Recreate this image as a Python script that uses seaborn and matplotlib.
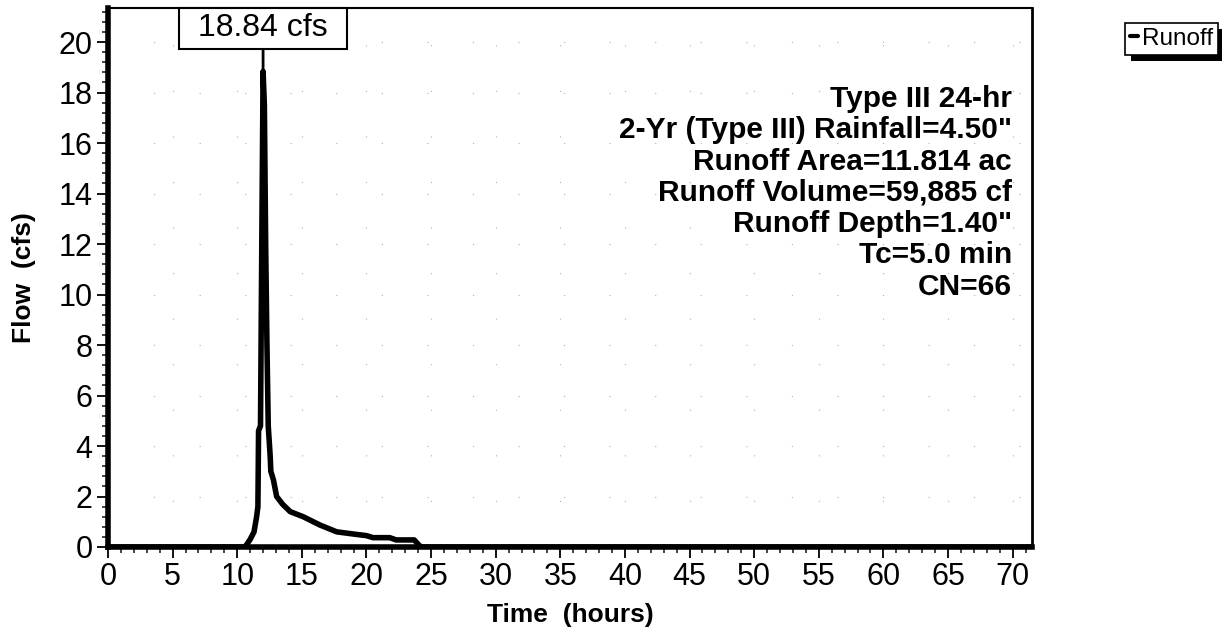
import matplotlib
matplotlib.use("Agg")
import matplotlib.pyplot as plt
from matplotlib.patches import Rectangle
from matplotlib.ticker import MultipleLocator
import seaborn as sns
import pandas as pd

# ---- data ----
time_hr = [0.0, 10.6, 11.0, 11.3, 11.5, 11.6, 11.65, 11.8, 11.9, 12.0, 12.1, 12.2,
           12.3, 12.4, 12.55, 12.6, 12.8, 13.05, 13.5, 14.1, 15.1, 16.4, 17.7,
           19.2, 20.0, 20.5, 21.8, 22.3, 23.7, 24.1, 24.3, 72.0]
flow_cfs = [0.0, 0.0, 0.3, 0.6, 1.2, 1.6, 4.6, 4.8, 12.0, 18.84, 17.5, 12.0,
            8.0, 4.8, 3.6, 3.0, 2.66, 2.0, 1.7, 1.4, 1.2, 0.87, 0.6,
            0.5, 0.45, 0.37, 0.37, 0.28, 0.28, 0.05, 0.0, 0.0]
peak_label = "18.84 cfs"
peak_time = 12.0
peak_flow = 18.84
info_lines = ["Type III 24-hr", "2-Yr (Type III) Rainfall=4.50\"",
              "Runoff Area=11.814 ac", "Runoff Volume=59,885 cf",
              "Runoff Depth=1.40\"", "Tc=5.0 min", "CN=66"]
x_ticks = list(range(0, 71, 5))
y_ticks = list(range(0, 21, 2))

df = pd.DataFrame({"Time (hours)": time_hr, "Flow (cfs)": flow_cfs, "series": "Runoff"})

sns.set_theme(style="white")
plt.rcParams["font.family"] = ["Liberation Sans", "DejaVu Sans"]

W, H = 1222, 634
fig = plt.figure(figsize=(W / 100, H / 100), dpi=100)
ax = fig.add_axes([108 / W, (H - 547) / H, (1032 - 108) / W, (547 - 8) / H])

sns.lineplot(data=df, x="Time (hours)", y="Flow (cfs)", ax=ax, color="black",
             linewidth=4, legend=False, sort=False)

ax.set_xlim(0, 71.5)
ax.set_ylim(0, 21.35)
ax.set_xticks(x_ticks)
ax.set_yticks(y_ticks)
ax.xaxis.set_minor_locator(MultipleLocator(1))
ax.yaxis.set_minor_locator(MultipleLocator(0.4))
ax.tick_params(axis="both", which="major", direction="out", length=8, width=1.3,
               labelsize=22, colors="black", pad=3, bottom=True, left=True)
ax.tick_params(axis="both", which="minor", direction="out", length=4, width=1.2,
               bottom=True, left=True)

# faint sparse dotted grid
ax.grid(True, which="major", color="#b0b0b0", linestyle=(0, (1, 40)), linewidth=0.8)

for side, lw in [("left", 4.0), ("bottom", 4.0), ("right", 2.0), ("top", 1.5)]:
    ax.spines[side].set_visible(True)
    ax.spines[side].set_color("black")
    ax.spines[side].set_linewidth(lw)

ax.set_xlabel("Time  (hours)", fontsize=19, fontweight="bold", labelpad=8, color="black")
ax.set_ylabel("Flow  (cfs)", fontsize=19, fontweight="bold", labelpad=16, color="black")

# peak label: text + box sized from the text extent, leader line to the peak
box_top, box_bot = 1.0, (547 - 49) / 539
peak_txt = ax.text(peak_time, (box_top + box_bot) / 2, peak_label,
                   transform=ax.get_xaxis_transform(), ha="center", va="center",
                   fontsize=23, color="black", zorder=6)
ax.annotate("", xy=(peak_time, peak_flow), xycoords="data",
            xytext=(peak_time, box_bot), textcoords=("data", "axes fraction"),
            arrowprops=dict(arrowstyle="-", color="black", lw=2, shrinkA=0, shrinkB=0))

# info text block
y0 = 99
for i, line in enumerate(info_lines):
    ax.text(1012 / W, 1 - (y0 + i * 31.3) / H, line, transform=fig.transFigure,
            ha="right", va="center", fontsize=21.5, fontweight="bold", color="black")

# legend with offset shadow
handle = plt.Line2D([], [], color="black", lw=3)
leg = fig.legend([handle], ["Runoff"], loc="upper left",
                 bbox_to_anchor=(1125 / W, 1 - 23 / H), fontsize=17.5,
                 handlelength=0.35, handletextpad=0.15, borderpad=0.2,
                 frameon=True, fancybox=False, borderaxespad=0,
                 facecolor="white", framealpha=1)
leg.get_frame().set_edgecolor("black")
leg.get_frame().set_linewidth(1.2)
leg.set_zorder(5)
for t in leg.get_texts():
    t.set_color("black")

fig.canvas.draw()

# box around the peak label
tb = peak_txt.get_window_extent()
pad_x = 19
ax_bb = ax.get_window_extent()
y_top_px = ax_bb.y1
y_bot_px = ax_bb.y0 + box_bot * ax_bb.height
pbox = Rectangle(((tb.x0 - pad_x) / W, y_bot_px / H), (tb.width + 2 * pad_x) / W,
                 (y_top_px - y_bot_px) / H, transform=fig.transFigure,
                 facecolor="white", edgecolor="black", linewidth=1.5, zorder=5)
fig.patches.append(pbox)
peak_txt.remove()
fig.text((tb.x0 + tb.x1) / 2 / W, (y_top_px + y_bot_px) / 2 / H, peak_label,
         ha="center", va="center", fontsize=23, color="black", zorder=7)

# legend shadow
bb = leg.get_window_extent()
off = 6
shadow = Rectangle(((bb.x0 + off) / W, (bb.y0 - off) / H), bb.width / W, bb.height / H,
                   transform=fig.transFigure, facecolor="black", edgecolor="none", zorder=4)
fig.patches.append(shadow)

fig.savefig("out.png", dpi=100)
